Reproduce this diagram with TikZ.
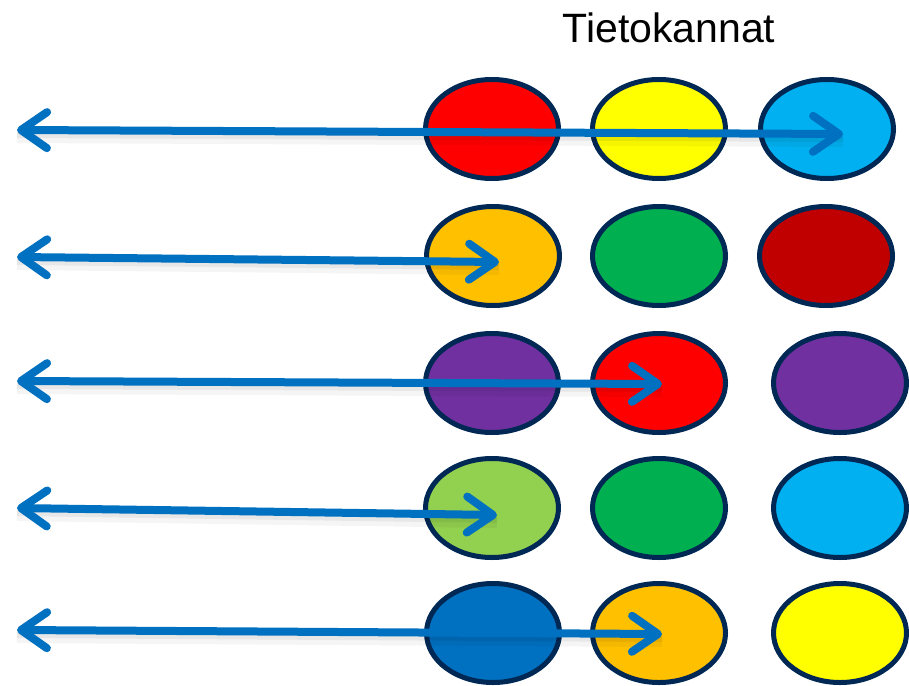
\documentclass[tikz,border=0pt]{standalone}
\usepackage{fontspec}
\setmainfont{Liberation Sans}
\usetikzlibrary{shapes.geometric,arrows.meta}
\definecolor{navy}{HTML}{002855}
\definecolor{arrowblue}{HTML}{0070C0}
\definecolor{cRed}{HTML}{FF0000}
\definecolor{cYellow}{HTML}{FFFF00}
\definecolor{cLightBlue}{HTML}{00B0F0}
\definecolor{cOrange}{HTML}{FFC000}
\definecolor{cGreen}{HTML}{00B050}
\definecolor{cDarkRed}{HTML}{C00000}
\definecolor{cPurple}{HTML}{7030A0}
\definecolor{cLightGreen}{HTML}{92D050}
\definecolor{cBlue}{HTML}{0070C0}
\tikzset{
  db/.style={ellipse, draw=navy, line width=5pt, minimum width=133pt, minimum height=99pt, inner sep=0pt},
  barb/.tip={Straight Barb[length=26pt, width=36pt, line width=8pt, line cap=round, line join=round]},
  linkarrow/.style={draw=arrowblue, line width=8pt, {barb}-{barb}},
  linkshadowA/.style={draw=black, opacity=0.06, line width=8pt},
  linkshadowB/.style={draw=black, opacity=0.04, line width=14pt},
}
\begin{document}
\begin{tikzpicture}[x=1pt,y=-1pt]
\useasboundingbox (0,0) rectangle (909,685);
\node[font=\fontsize{41}{48}\selectfont, anchor=base] (title) at (669,43) {Tietokannat};
% row 1
\node[db, fill=cRed] (r1a) at (492,129) {};
\node[db, fill=cYellow] (r1b) at (659,129) {};
\node[db, fill=cLightBlue] (r1c) at (827,129) {};
% row 2
\node[db, fill=cOrange] (r2a) at (493,256) {};
\node[db, fill=cGreen] (r2b) at (659,256) {};
\node[db, fill=cDarkRed] (r2c) at (826,256) {};
% row 3
\node[db, fill=cPurple] (r3a) at (492,383) {};
\node[db, fill=cRed] (r3b) at (659,383) {};
\node[db, fill=cPurple] (r3c) at (840,383) {};
% row 4
\node[db, fill=cLightGreen] (r4a) at (492,508) {};
\node[db, fill=cGreen] (r4b) at (659,508) {};
\node[db, fill=cLightBlue] (r4c) at (840,508) {};
% row 5
\node[db, fill=cBlue] (r5a) at (493,633) {};
\node[db, fill=cOrange] (r5b) at (659,633) {};
\node[db, fill=cYellow] (r5c) at (840,633) {};
% arrow ends
\coordinate (l1) at (17,130); \coordinate (e1) at (843,134);
\coordinate (l2) at (17,257); \coordinate (e2) at (499,262);
\coordinate (l3) at (17,381); \coordinate (e3) at (662,384);
\coordinate (l4) at (17,508); \coordinate (e4) at (497,515);
\coordinate (l5) at (17,630); \coordinate (e5) at (662,634);
\foreach \i in {1,...,5} {
  \draw[linkshadowB] ([yshift=-6pt]l\i) -- ([yshift=-6pt]e\i);
  \draw[linkshadowA] ([yshift=-4pt]l\i) -- ([yshift=-4pt]e\i);
  \draw[linkarrow] (l\i) -- (e\i);
}
\end{tikzpicture}
\end{document}
